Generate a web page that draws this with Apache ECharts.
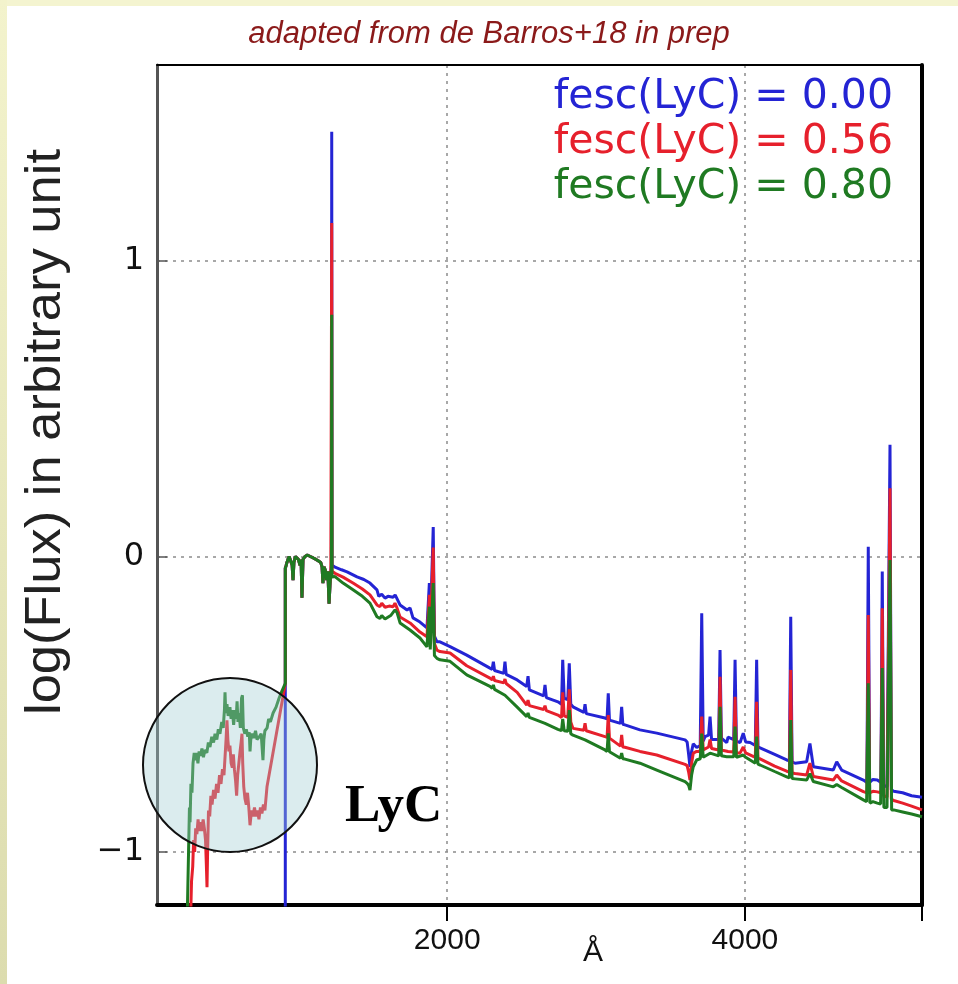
<!DOCTYPE html>
<html><head><meta charset="utf-8">
<script src="https://cdn.jsdelivr.net/npm/echarts@6/dist/echarts.min.js"></script>
<style>html,body{margin:0;padding:0;background:#fff}#chart{width:958px;height:984px}</style>
</head><body><div id="chart"></div><script>
// ---- data (wavelength in Å, log flux) ----
const seriesNames = ['fesc(LyC) = 0.00', 'fesc(LyC) = 0.56', 'fesc(LyC) = 0.80'];
const xTickLabels = [2000, 4000];
const yTickLabels = [-1, 0, 1];

const lycBlue = [[912,-1.3],[912,-0.43]];
const lycRed = [[272,-1.3],[282,-1.1],[290,-1.05],[296,-0.96],[303,-1.0],[310,-0.92],[318,-0.94],[326,-0.89],[334,-0.93],[342,-0.90],[350,-0.93],[360,-0.89],[368,-0.92],[376,-0.96],[382,-1.05],[386,-1.12],[390,-1.0],[396,-0.86],[404,-0.88],[412,-0.81],[420,-0.84],[430,-0.79],[440,-0.82],[450,-0.77],[460,-0.80],[470,-0.74],[480,-0.77],[490,-0.72],[500,-0.74],[507,-0.68],[514,-0.62],[520,-0.555],[526,-0.62],[533,-0.66],[540,-0.64],[548,-0.70],[556,-0.715],[563,-0.67],[570,-0.72],[578,-0.76],[585,-0.81],[592,-0.74],[600,-0.70],[608,-0.66],[615,-0.63],[621,-0.60],[626,-0.70],[633,-0.78],[641,-0.82],[650,-0.84],[658,-0.80],[667,-0.85],[675,-0.91],[685,-0.86],[695,-0.88],[705,-0.85],[715,-0.88],[725,-0.86],[735,-0.89],[745,-0.85],[755,-0.87],[765,-0.84],[775,-0.86],[789,-0.78],[912,-0.43]];
const lycGreen = [[250,-1.3],[262,-1.0],[268,-0.85],[272,-0.90],[278,-0.77],[285,-0.80],[292,-0.70],[300,-0.665],[308,-0.69],[316,-0.665],[325,-0.70],[333,-0.66],[342,-0.675],[352,-0.65],[362,-0.68],[372,-0.655],[385,-0.665],[395,-0.63],[406,-0.645],[418,-0.61],[430,-0.63],[440,-0.60],[452,-0.62],[462,-0.585],[473,-0.60],[485,-0.56],[495,-0.58],[503,-0.52],[507,-0.46],[512,-0.53],[520,-0.50],[528,-0.54],[540,-0.51],[548,-0.55],[556,-0.52],[565,-0.57],[574,-0.52],[582,-0.55],[588,-0.49],[594,-0.56],[602,-0.53],[610,-0.58],[618,-0.48],[624,-0.47],[630,-0.58],[640,-0.60],[650,-0.585],[660,-0.61],[670,-0.595],[675,-0.66],[680,-0.62],[690,-0.60],[700,-0.615],[712,-0.59],[722,-0.62],[738,-0.61],[750,-0.60],[762,-0.69],[768,-0.62],[775,-0.59],[790,-0.58],[800,-0.55],[812,-0.56],[830,-0.53],[850,-0.51],[870,-0.48],[890,-0.455],[912,-0.43]];
const farUV = [[912,-0.43],[912,-0.04],[918,-0.03],[923,-0.02],[930,-0.01],[938,0.0],[950,0.0],[958,-0.03],[964,-0.08],[970,-0.02],[980,0.0],[990,0.0],[1000,-0.01],[1011,-0.03],[1018,-0.01],[1024,-0.14],[1031,-0.01],[1045,0.0],[1060,0.005],[1080,0.0],[1100,-0.005],[1118,-0.01],[1135,-0.015],[1150,-0.02],[1159,-0.035],[1165,-0.09],[1172,-0.035],[1180,-0.045],[1190,-0.08],[1198,-0.05],[1206,-0.16],[1212,-0.10],[1218,-0.05]];
const blueRest = [[1222,-0.03],[1224,1.438],[1226,-0.03],[1246,-0.036],[1290,-0.045],[1327,-0.052],[1394,-0.069],[1440,-0.078],[1481,-0.090],[1528,-0.113],[1540,-0.135],[1548,-0.141],[1560,-0.128],[1582,-0.141],[1602,-0.135],[1636,-0.138],[1650,-0.13],[1663,-0.124],[1683,-0.164],[1730,-0.181],[1750,-0.174],[1770,-0.208],[1817,-0.222],[1864,-0.242],[1874,-0.245],[1880,-0.09],[1886,-0.25],[1898,-0.255],[1906,0.10],[1914,-0.27],[1931,-0.289],[1951,-0.289],[2019,-0.305],[2131,-0.334],[2287,-0.378],[2302,-0.382],[2310,-0.356],[2318,-0.386],[2380,-0.396],[2388,-0.356],[2396,-0.399],[2408,-0.401],[2470,-0.418],[2534,-0.440],[2543,-0.405],[2552,-0.452],[2648,-0.472],[2657,-0.435],[2666,-0.478],[2744,-0.492],[2768,-0.50],[2776,-0.350],[2786,-0.48],[2798,-0.475],[2810,-0.485],[2820,-0.362],[2830,-0.50],[2845,-0.509],[2918,-0.528],[2926,-0.500],[2934,-0.532],[3060,-0.547],[3074,-0.55],[3082,-0.463],[3090,-0.554],[3100,-0.555],[3164,-0.565],[3172,-0.509],[3180,-0.568],[3194,-0.570],[3295,-0.587],[3408,-0.598],[3598,-0.621],[3612,-0.628],[3622,-0.67],[3631,-0.712],[3642,-0.66],[3653,-0.634],[3676,-0.647],[3700,-0.640],[3710,-0.192],[3720,-0.625],[3732,-0.610],[3756,-0.605],[3766,-0.542],[3776,-0.62],[3786,-0.623],[3824,-0.62],[3833,-0.317],[3842,-0.615],[3878,-0.630],[3887,-0.612],[3925,-0.62],[3934,-0.350],[3943,-0.625],[3968,-0.630],[3989,-0.598],[4005,-0.628],[4035,-0.630],[4070,-0.64],[4079,-0.350],[4088,-0.645],[4102,-0.648],[4200,-0.67],[4281,-0.689],[4299,-0.692],[4308,-0.204],[4317,-0.695],[4337,-0.700],[4415,-0.695],[4437,-0.633],[4460,-0.712],[4594,-0.723],[4617,-0.695],[4650,-0.723],[4796,-0.757],[4820,-0.765],[4829,0.033],[4838,-0.765],[4860,-0.755],[4890,-0.757],[4914,-0.765],[4923,-0.051],[4932,-0.775],[4955,-0.78],[4966,-0.785],[4975,0.378],[4984,-0.79],[5000,-0.795],[5060,-0.80],[5120,-0.81],[5190,-0.815]];
const redRest = [[1222,-0.05],[1224,1.129],[1226,-0.05],[1246,-0.057],[1300,-0.07],[1367,-0.090],[1430,-0.11],[1481,-0.130],[1528,-0.164],[1548,-0.17],[1560,-0.158],[1582,-0.172],[1610,-0.168],[1636,-0.17],[1649,-0.158],[1663,-0.175],[1683,-0.205],[1750,-0.225],[1817,-0.256],[1864,-0.272],[1874,-0.276],[1880,-0.13],[1886,-0.28],[1898,-0.285],[1906,0.03],[1914,-0.295],[1931,-0.317],[1951,-0.322],[2019,-0.327],[2131,-0.37],[2287,-0.412],[2302,-0.418],[2310,-0.405],[2318,-0.42],[2380,-0.428],[2388,-0.415],[2396,-0.43],[2470,-0.46],[2534,-0.503],[2543,-0.486],[2552,-0.505],[2648,-0.518],[2657,-0.505],[2666,-0.522],[2744,-0.537],[2768,-0.545],[2776,-0.46],[2786,-0.54],[2798,-0.54],[2810,-0.545],[2820,-0.45],[2830,-0.56],[2845,-0.582],[2918,-0.588],[2926,-0.565],[2934,-0.59],[3060,-0.610],[3074,-0.612],[3082,-0.537],[3090,-0.615],[3100,-0.617],[3164,-0.642],[3172,-0.604],[3180,-0.645],[3194,-0.646],[3295,-0.66],[3408,-0.672],[3598,-0.704],[3612,-0.708],[3622,-0.73],[3631,-0.757],[3642,-0.70],[3653,-0.666],[3676,-0.66],[3700,-0.66],[3710,-0.542],[3720,-0.655],[3756,-0.645],[3766,-0.62],[3776,-0.65],[3824,-0.655],[3833,-0.407],[3842,-0.655],[3887,-0.66],[3925,-0.662],[3934,-0.475],[3943,-0.665],[3968,-0.665],[3989,-0.645],[4005,-0.665],[4070,-0.68],[4079,-0.492],[4088,-0.683],[4102,-0.685],[4200,-0.71],[4281,-0.727],[4299,-0.73],[4308,-0.384],[4317,-0.733],[4337,-0.735],[4415,-0.74],[4437,-0.70],[4460,-0.745],[4594,-0.757],[4617,-0.74],[4650,-0.76],[4796,-0.796],[4820,-0.80],[4829,-0.198],[4838,-0.80],[4860,-0.795],[4890,-0.797],[4914,-0.80],[4923,-0.175],[4932,-0.81],[4955,-0.815],[4966,-0.818],[4975,0.231],[4984,-0.822],[5000,-0.826],[5060,-0.835],[5120,-0.845],[5190,-0.858]];
const greenRest = [[1222,-0.07],[1224,0.818],[1226,-0.07],[1246,-0.068],[1300,-0.09],[1367,-0.113],[1430,-0.135],[1481,-0.158],[1528,-0.204],[1548,-0.21],[1560,-0.20],[1582,-0.212],[1620,-0.20],[1649,-0.181],[1663,-0.19],[1683,-0.225],[1750,-0.249],[1817,-0.276],[1864,-0.306],[1874,-0.31],[1880,-0.17],[1886,-0.315],[1898,-0.32],[1906,-0.09],[1914,-0.335],[1931,-0.345],[1951,-0.350],[2019,-0.355],[2131,-0.401],[2287,-0.44],[2302,-0.446],[2310,-0.435],[2318,-0.45],[2388,-0.47],[2470,-0.51],[2534,-0.542],[2543,-0.530],[2552,-0.545],[2657,-0.565],[2744,-0.585],[2768,-0.59],[2776,-0.55],[2786,-0.59],[2798,-0.59],[2810,-0.592],[2820,-0.52],[2830,-0.60],[2845,-0.605],[2926,-0.621],[3060,-0.655],[3074,-0.66],[3082,-0.599],[3090,-0.661],[3100,-0.662],[3164,-0.683],[3172,-0.666],[3180,-0.685],[3194,-0.686],[3295,-0.70],[3408,-0.723],[3598,-0.762],[3612,-0.768],[3622,-0.775],[3631,-0.791],[3642,-0.74],[3653,-0.712],[3676,-0.689],[3700,-0.685],[3710,-0.60],[3720,-0.68],[3766,-0.666],[3824,-0.675],[3833,-0.509],[3842,-0.675],[3878,-0.678],[3925,-0.678],[3934,-0.576],[3943,-0.68],[3989,-0.672],[4005,-0.68],[4070,-0.70],[4079,-0.610],[4088,-0.703],[4102,-0.706],[4200,-0.728],[4281,-0.746],[4299,-0.75],[4308,-0.554],[4317,-0.752],[4337,-0.753],[4415,-0.757],[4437,-0.735],[4460,-0.762],[4594,-0.780],[4617,-0.772],[4650,-0.782],[4796,-0.824],[4818,-0.83],[4829,-0.429],[4840,-0.835],[4860,-0.83],[4890,-0.835],[4912,-0.838],[4923,-0.378],[4934,-0.85],[4955,-0.85],[4964,-0.852],[4975,-0.012],[4986,-0.858],[5000,-0.858],[5060,-0.865],[5120,-0.872],[5190,-0.881]];

const blueData = lycBlue.concat(farUV, blueRest);
const redData = lycRed.concat(farUV, redRest);
const greenData = lycGreen.concat(farUV, greenRest);

const colors = ['#2424d4', '#e6202c', '#1f7a22'];
const X_MIN = 50, X_MAX = 5190, Y_MIN = -1.18, Y_MAX = 1.664;

const chart = echarts.init(document.getElementById('chart'), null, {renderer: 'canvas'});
const dotted = {color: '#8c8c8c', width: 1.5, type: [3, 5]};
const LW = 3;

const option = {
  animation: false,
  backgroundColor: '#ffffff',
  grid: {left: 157, right: 36, top: 65, bottom: 79},
  legend: {
    orient: 'vertical', right: 60, top: 71, itemGap: 2, itemWidth: 0, itemHeight: 0,
    icon: 'rect', selectedMode: false, padding: 5,
    textStyle: {fontFamily: 'DejaVu Sans', fontSize: 41, lineHeight: 43},
    data: seriesNames.map((n, i) => ({name: n, textStyle: {color: colors[i]}}))
  },
  xAxis: [{
    type: 'value', min: X_MIN, max: X_MAX, splitNumber: 3, position: 'bottom',
    axisLine: {show: true, onZero: false, lineStyle: {color: '#000', width: 4}},
    axisTick: {show: true, length: 16, lineStyle: {color: '#000', width: 2}, customValues: [2000, 4000, X_MAX]},
    axisLabel: {fontFamily: 'Liberation Sans', fontSize: 30, color: '#111', margin: 21,
      formatter: v => xTickLabels.indexOf(v) >= 0 ? String(v) : ''},
    splitLine: {show: true, lineStyle: dotted}
  }, {
    type: 'value', min: X_MIN, max: X_MAX, position: 'top',
    axisLine: {show: true, onZero: false, lineStyle: {color: '#000', width: 2}},
    axisTick: {show: false}, axisLabel: {show: false}, splitLine: {show: false}
  }],
  yAxis: [{
    type: 'value', min: Y_MIN, max: Y_MAX, splitNumber: 3,
    axisLine: {show: true, onZero: false, lineStyle: {color: '#555', width: 3}},
    axisTick: {show: true, inside: true, length: 10, lineStyle: {color: '#555', width: 1.5}, customValues: yTickLabels},
    axisLabel: {fontFamily: 'DejaVu Sans', fontSize: 32, color: '#111', margin: 13,
      formatter: v => yTickLabels.indexOf(v) >= 0 ? (v < 0 ? '\u2212' + Math.abs(v) : String(v)) : ''},
    splitLine: {show: true, lineStyle: dotted}
  }, {
    type: 'value', min: Y_MIN, max: Y_MAX, position: 'right',
    axisLine: {show: true, onZero: false, lineStyle: {color: '#000', width: 4}},
    axisTick: {show: false}, axisLabel: {show: false}, splitLine: {show: false}
  }],
  series: [
    {name: seriesNames[0], type: 'line', data: blueData, showSymbol: false, z: 2, clip: true,
      lineStyle: {color: colors[0], width: LW}, itemStyle: {color: colors[0]}},
    {name: seriesNames[1], type: 'line', data: redData, showSymbol: false, z: 3, clip: true,
      lineStyle: {color: colors[1], width: LW}, itemStyle: {color: colors[1]}},
    {name: seriesNames[2], type: 'line', data: greenData, showSymbol: false, z: 4, clip: true,
      lineStyle: {color: colors[2], width: LW}, itemStyle: {color: colors[2]}}
  ],
  graphic: [
    {type: 'rect', z: -10, silent: true, shape: {x: 0, y: 0, width: 958, height: 6}, style: {fill: '#f4f4d0'}},
    {type: 'rect', z: -10, silent: true, shape: {x: 0, y: 0, width: 7, height: 984},
      style: {fill: new echarts.graphic.LinearGradient(0, 0, 0, 1, [{offset: 0, color: '#f3f3cc'}, {offset: 1, color: '#dcdcae'}])}},
    {type: 'text', z: 50, silent: true, x: 489, y: 34,
      style: {text: 'adapted from de Barros+18 in prep', fill: '#8b1a1a', font: 'italic 31px "Liberation Sans"', align: 'center', verticalAlign: 'middle'}},
    {type: 'text', z: 50, silent: true, x: 46, y: 432, rotation: Math.PI / 2, scaleX: 1.05,
      style: {text: 'log(Flux) in arbitrary unit', fill: '#222', font: '50px "Liberation Sans"', align: 'center', verticalAlign: 'middle'}},
    {type: 'text', z: 50, silent: true, x: 593, y: 953,
      style: {text: 'Å', fill: '#111', font: '30px "Liberation Sans"', align: 'center', verticalAlign: 'middle'}},
    {type: 'circle', z: 100, silent: true, shape: {cx: 230, cy: 765, r: 87},
      style: {fill: 'rgba(160,205,210,0.38)', stroke: '#111', lineWidth: 2}},
    {type: 'text', z: 100, silent: true, x: 345, y: 807,
      style: {text: 'LyC', fill: '#000', font: 'bold 53px "Liberation Serif"', align: 'left', verticalAlign: 'middle'}}
  ]
};
chart.setOption(option);
</script></body></html>
